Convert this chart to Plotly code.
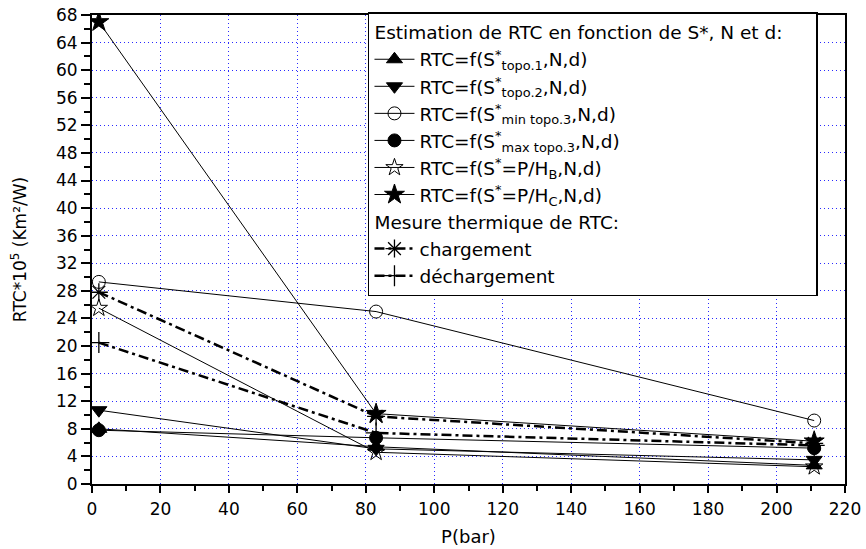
import plotly.graph_objects as go

# ---- data ----
pressure = [2, 83, 211]

rtc_topo1 = [8.0, 5.4, 2.7]
rtc_topo2 = [10.7, 5.1, 3.5]
rtc_min_topo3 = [29.3, 25.0, 9.2]
rtc_max_topo3 = [7.8, 6.7, 5.2]
rtc_p_hb = [25.5, 4.6, 2.5]
rtc_p_hc = [67.0, 10.2, 6.2]
rtc_charge = [27.8, 9.8, 5.9]
rtc_decharge = [20.5, 7.4, 5.6]

names_est = [
    "RTC=f(S<sup>*</sup><sub>topo.1</sub>,N,d)",
    "RTC=f(S<sup>*</sup><sub>topo.2</sub>,N,d)",
    "RTC=f(S<sup>*</sup><sub>min topo.3</sub>,N,d)",
    "RTC=f(S<sup>*</sup><sub>max topo.3</sub>,N,d)",
    "RTC=f(S<sup>*</sup>=P/H<sub>B</sub>,N,d)",
    "RTC=f(S<sup>*</sup>=P/H<sub>C</sub>,N,d)",
]
names_mes = ["chargement", "déchargement"]
group_titles = ["Estimation de RTC en fonction de S*, N et d:", "Mesure thermique de RTC:"]

x_ticks = list(range(0, 221, 20))
y_ticks = list(range(0, 69, 4))

FONT = "DejaVu Sans, Liberation Sans, sans-serif"
LFS = 18.5
PAD = "\u00a0" * 4  # widen the legend box to the reference width

fig = go.Figure()

est_series = [rtc_topo1, rtc_topo2, rtc_min_topo3, rtc_max_topo3, rtc_p_hb, rtc_p_hc]
est_symbols = ["triangle-up", "triangle-down", "circle-open", "circle", "star-open", "star"]
est_sizes = [14, 14, 13, 13, 13, 15]

for i, (ys, sym, sz) in enumerate(zip(est_series, est_symbols, est_sizes)):
    fig.add_trace(go.Scatter(
        x=pressure, y=ys, name=names_est[i], mode="lines+markers",
        line=dict(color="black", width=1),
        marker=dict(symbol=sym, size=sz, color="black",
                    line=dict(color="black", width=1)),
        legendgroup="est",
        legendgrouptitle=dict(text=group_titles[0] + PAD, font=dict(size=LFS, family=FONT, color="black")),
    ))

mes_series = [rtc_charge, rtc_decharge]
mes_symbols = ["asterisk-open", "cross-thin-open"]
for i, (ys, sym) in enumerate(zip(mes_series, mes_symbols)):
    fig.add_trace(go.Scatter(
        x=pressure, y=ys, name=names_mes[i], mode="lines+markers",
        line=dict(color="black", width=2.5, dash="10px,4px,3px,4px"),
        marker=dict(symbol=sym, size=15, color="black",
                    line=dict(color="black", width=1.3)),
        legendgroup="mes",
        legendgrouptitle=dict(text=group_titles[1], font=dict(size=LFS, family=FONT, color="black")),
    ))

fig.update_layout(
    width=866, height=549,
    margin=dict(l=92, r=21, t=15, b=65),
    paper_bgcolor="white", plot_bgcolor="white",
    font=dict(family=FONT, color="black"),
    showlegend=True,
    legend=dict(
        x=0.3665, y=1.006, xanchor="left", yanchor="top",
        bgcolor="white", bordercolor="black", borderwidth=1.5,
        font=dict(size=LFS, family=FONT, color="black"),
        tracegroupgap=0, itemwidth=40, traceorder="grouped",
        maxheight=500,
    ),
    xaxis=dict(
        range=[0, 220], tickvals=x_ticks, ticktext=[str(v) for v in x_ticks],
        showline=True, linecolor="black", linewidth=2, mirror=True,
        ticks="outside", ticklen=7, tickwidth=2, tickcolor="black",
        minor=dict(dtick=10, ticks="outside", ticklen=5, tickwidth=2, tickcolor="black", showgrid=False),
        showgrid=True, gridcolor="#2a2aff", griddash="1px,3px", gridwidth=1,
        zeroline=False, automargin=False,
        tickfont=dict(size=17, family=FONT),
        ticklabelstandoff=2,
        title=dict(text="P(bar)", font=dict(size=18, family=FONT), standoff=12),
    ),
    yaxis=dict(
        range=[0, 68], tickvals=y_ticks, ticktext=[str(v) for v in y_ticks],
        showline=True, linecolor="black", linewidth=2, mirror=True,
        ticks="outside", ticklen=9, tickwidth=2, tickcolor="black",
        minor=dict(dtick=2, ticks="outside", ticklen=6, tickwidth=2, tickcolor="black", showgrid=False),
        showgrid=True, gridcolor="#2a2aff", griddash="1px,3px", gridwidth=1,
        zeroline=False, automargin=False,
        tickfont=dict(size=17, family=FONT),
        title=dict(text="RTC*10<sup>5</sup> (Km²/W)", font=dict(size=17, family=FONT), standoff=25),
    ),
)

fig.write_html("out.html")
